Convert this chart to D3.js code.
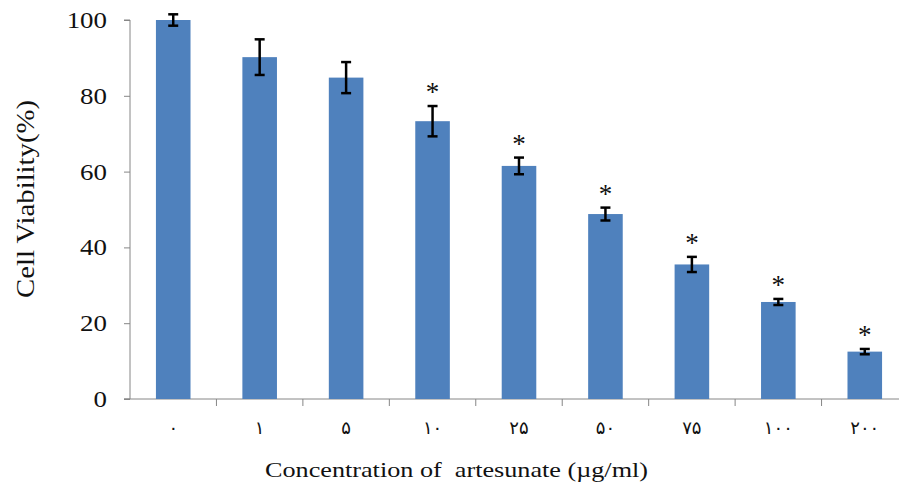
<!DOCTYPE html>
<html><head><meta charset="utf-8">
<script src="https://cdn.jsdelivr.net/npm/d3@7"></script>
<style>body{margin:0;background:#fff}svg{display:block}</style>
</head><body><div id="c"></div>
<script>
const categories = ["۰","۱","۵","۱۰","۲۵","۵۰","۷۵","۱۰۰","۲۰۰"];
const values = [100, 90.2, 84.8, 73.3, 61.5, 48.8, 35.5, 25.6, 12.5];
const errors = [1.5, 4.7, 4.1, 4.0, 2.2, 1.7, 2.0, 0.8, 0.7];
const significant = [false, false, false, true, true, true, true, true, true];
const yTicks = [0, 20, 40, 60, 80, 100];

const W = 899, H = 490;
const svg = d3.select("#c").append("svg").attr("width", W).attr("height", H);
const x = d3.scaleBand().domain(categories).range([130, 908]).paddingInner(0.6).paddingOuter(0.3);
const y = d3.scaleLinear().domain([0, 100]).range([399, 20]);
const axisColor = "#868686";

// y axis
const ya = svg.append("g").attr("transform", "translate(130,0)")
  .call(d3.axisLeft(y).tickValues(yTicks).tickSize(6).tickFormat(""));
ya.select(".domain").attr("stroke", axisColor).attr("d", `M-6,${y(0)}H0V${y(100)}H-6`).attr("stroke-width",1);
ya.selectAll(".tick line").attr("stroke", axisColor);
svg.append("g").selectAll("text").data(yTicks).join("text")
  .attr("transform", d => `translate(107,${y(d) + 8}) scale(1.17,1)`)
  .attr("text-anchor", "end").attr("font-family", "Liberation Serif").attr("font-size", 23)
  .attr("fill", "#111").text(d => d);

// x axis
const xa = svg.append("g").attr("transform", `translate(0,${y(0)})`);
xa.append("line").attr("x1", 124).attr("x2", W).attr("y1", 0).attr("y2", 0).attr("stroke", axisColor);
const step = x.step();
xa.selectAll("line.t").data(categories.slice(1)).join("line").attr("class","t")
  .attr("x1", d => x(d) + x.bandwidth()/2 - step/2).attr("x2", d => x(d) + x.bandwidth()/2 - step/2)
  .attr("y1", 0).attr("y2", 7).attr("stroke", axisColor);
xa.selectAll("text").data(categories).join("text")
  .attr("x", d => x(d) + x.bandwidth()/2).attr("y", 35)
  .attr("text-anchor", "middle").attr("font-family", "DejaVu Sans").attr("font-size", 18)
  .attr("letter-spacing", 4).attr("fill", "#111").text(d => d);

// bars
svg.selectAll("rect.bar").data(categories).join("rect").attr("class","bar")
  .attr("x", d => x(d)).attr("width", x.bandwidth())
  .attr("y", (d,i) => y(values[i])).attr("height", (d,i) => y(0) - y(values[i]))
  .attr("fill", "#4F81BD");

// error bars
const eg = svg.append("g").attr("stroke", "#000").attr("stroke-width", 2.5);
categories.forEach((d,i) => {
  const cx = x(d) + x.bandwidth()/2;
  const t = y(values[i] + errors[i]), b = y(values[i] - errors[i]);
  eg.append("line").attr("x1", cx).attr("x2", cx).attr("y1", t).attr("y2", b);
  eg.append("line").attr("x1", cx-5).attr("x2", cx+5).attr("y1", t).attr("y2", t);
  eg.append("line").attr("x1", cx-5).attr("x2", cx+5).attr("y1", b).attr("y2", b);
  if (significant[i]) {
    svg.append("text").attr("x", cx).attr("y", t - 5)
      .attr("text-anchor","middle").attr("font-family","Liberation Serif").attr("font-size", 27)
      .attr("fill","#111").text("*");
  }
});

// titles
svg.append("text").attr("x", 265).attr("y", 477)
  .attr("font-family","Liberation Serif").attr("font-size", 22).attr("fill","#111")
  .attr("textLength", 383).attr("lengthAdjust", "spacingAndGlyphs")
  .style("white-space","pre")
  .text("Concentration of  artesunate (µg/ml)");
svg.append("text").attr("transform","translate(34,199) rotate(-90)").attr("text-anchor","middle")
  .attr("font-family","Liberation Serif").attr("font-size", 25).attr("fill","#111")
  .attr("textLength", 198).attr("lengthAdjust", "spacingAndGlyphs")
  .text("Cell Viability(%)");
</script></body></html>
